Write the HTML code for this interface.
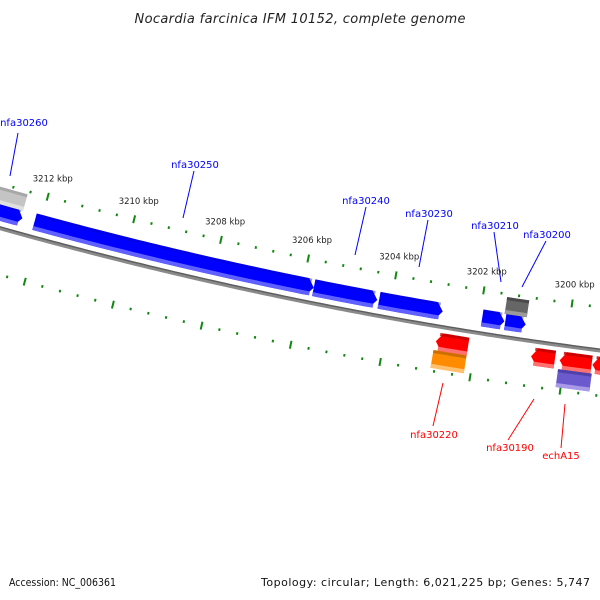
<!DOCTYPE html>
<html><head><meta charset="utf-8"><style>
html,body{margin:0;padding:0;background:#fff;}
svg{display:block;font-family:"DejaVu Sans","Liberation Sans",sans-serif;}
</style></head><body>
<svg id="map" width="600" height="600" viewBox="0 0 600 600">
<text x="300" y="23" text-anchor="middle" font-size="13" font-style="italic" fill="#222" textLength="331">Nocardia farcinica IFM 10152, complete genome</text>
<g id="ticks"></g>
<g id="backbone"></g>
<g id="genes"></g>
<g id="labels"></g>
<text x="9" y="586" font-size="10.5" fill="#111" textLength="107" lengthAdjust="spacingAndGlyphs">Accession: NC_006361</text>
<text x="590" y="586" font-size="11" fill="#111" text-anchor="end" textLength="329">Topology: circular; Length: 6,021,225 bp; Genes: 5,747</text>
</svg>
<script>
// Data (kbp)
const geneNames = ["nfa30260","nfa30250","nfa30240","nfa30230","nfa30210","nfa30200","gray-left","gray-dark","nfa30220","red-b","red-c","red-d","orange","echA15"];
const geneStarts = [3214.46,3212.14,3205.75,3204.27,3201.94,3201.42,3214.5,3201.46,3202.87,3200.74,3200.1,3199.37,3202.89,3200.11];
const geneEnds   = [3212.42,3205.75,3204.31,3202.83,3201.44,3200.96,3212.45,3200.96,3202.15,3200.21,3199.39,3198.7,3202.15,3199.36];
const geneRing   = ["fwd","fwd","fwd","fwd","fwd","fwd","up","up","rev","rev","rev","rev","low","low"];
const geneColor  = ["blue","blue","blue","blue","blue","blue","lgray","dgray","red","red","red","red","orange","purple"];
const geneArrow  = ["right","right","right","right","right","right","none","none","left","left","left","left","none","none"];
const tickMajor = [3214,3212,3210,3208,3206,3204,3202,3200,3198];
const tickLabels = ["3214 kbp","3212 kbp","3210 kbp","3208 kbp","3206 kbp","3204 kbp","3202 kbp","3200 kbp","3198 kbp"];
const labelText = ["nfa30260","nfa30250","nfa30240","nfa30230","nfa30210","nfa30200","nfa30220","nfa30190","echA15"];
const labelColor = ["#0000ff","#0000ff","#0000ff","#0000ff","#0000ff","#0000ff","#ff0000","#ff0000","#ff0000"];
const labelX = [24,195,366,429,495,547,434,510,561];
const labelY = [126,168,204,217,229,238,438,451,459];
const lineX1 = [18,194,366,428,494,546,443,534,565];
const lineY1 = [133,171,207,220,232,241,383,399,404];
const lineX2 = [10,183,355,419,501,522,433,508,561];
const lineY2 = [176,218,255,267,282,287,426,440,448];

const NS="http://www.w3.org/2000/svg";
const cx=1137, cy=-3815, R0=4200;
const a0=105.19*Math.PI/180, k=0.615*Math.PI/180;
function pt(bp,r){const a=a0+(bp-3212)*k;return [cx+r*Math.cos(a),cy+r*Math.sin(a)];}
function mk(tag,attrs,parent){const e=document.createElementNS(NS,tag);for(const n in attrs)e.setAttribute(n,attrs[n]);parent.appendChild(e);return e;}
function arcPts(b1,b2,r){const out=[];const n=Math.max(2,Math.ceil(Math.abs(b2-b1)*8));for(let i=0;i<=n;i++){out.push(pt(b1+(b2-b1)*i/n,r));}return out;}
function arcPath(b1,b2,r){return arcPts(b1,b2,r).map((p,i)=>(i?"L":"M")+p[0].toFixed(2)+" "+p[1].toFixed(2)).join(" ");}

// backbone
const bb=document.getElementById('backbone');
let e=mk('path',{d:arcPath(3216,3196,R0),stroke:'#8a8a8a','stroke-width':4,fill:'none'},bb);


e=mk('path',{d:arcPath(3216,3196,R0-1.3),stroke:'#5e5e5e','stroke-width':1.4,fill:'none'},bb);



// ticks
const tg=document.getElementById('ticks');
const rows=[R0-43,R0+45];
for(const r of rows){
  for(let bp=3198;bp<=3214.01;bp+=0.4){
    const major=tickMajor.some(m=>Math.abs(m-bp)<0.01);
    const L=major?4:1.3;
    const p1=pt(bp,r-L),p2=pt(bp,r+L);
    const t=mk('line',{x1:p1[0],y1:p1[1],x2:p2[0],y2:p2[1],stroke:'#118811','stroke-width':2},tg);
    
    
  }
}
tickMajor.forEach((m,i)=>{
  const p=pt(m,R0-62);
  const t=mk('text',{x:p[0],y:p[1]+3,'text-anchor':'middle','font-size':8.5,fill:'#222'},tg);
  t.textContent=tickLabels[i];
  
  
});

// genes
const ringR={fwd:[R0-24,R0-7],up:[R0-40,R0-23],rev:[R0+6,R0+24],low:[R0+24,R0+42]};
const cols={blue:['#0000ff','#0000c8','#6060ff'],red:['#ff0000','#c00000','#ff7070'],orange:['#ff8c00','#c06800','#ffc070'],purple:['#6a5acd','#4a3aa0','#a89ae8'],dgray:['#666666','#444444','#9a9a9a'],lgray:['#c4c4c4','#a0a0a0','#e0e0e0']};
const gg=document.getElementById('genes');
geneNames.forEach((nm,i)=>{
  const [r1,r2]=ringR[geneRing[i]];
  const hi=Math.max(geneStarts[i],geneEnds[i]), lo=Math.min(geneStarts[i],geneEnds[i]);
  const tip=0.14, rm=(r1+r2)/2;
  let top,bot,pts;
  if(geneArrow[i]==='right'){
    top=arcPts(hi,lo+tip,r1); bot=arcPts(lo+tip,hi,r2);
    pts=[...top,pt(lo,rm),...bot];
  }else if(geneArrow[i]==='left'){
    top=arcPts(hi-tip,lo,r1); bot=arcPts(lo,hi-tip,r2);
    pts=[pt(hi,rm),...top,...bot];
  }else{
    pts=[...arcPts(hi,lo,r1),...arcPts(lo,hi,r2)];
  }
  const g=mk('g',{},gg);
  
  
  const c=cols[geneColor[i]];
  mk('polygon',{points:pts.map(p=>p[0].toFixed(2)+","+p[1].toFixed(2)).join(" "),fill:c[0]},g);
  const loS=geneArrow[i]==='right'?lo+tip*0.5:lo, hiS=geneArrow[i]==='left'?hi-tip*0.5:hi;
  mk('path',{d:arcPath(hiS,loS,r2-2),stroke:c[2],'stroke-width':4,fill:'none'},g);
  mk('path',{d:arcPath(hiS,loS,r1+1.5),stroke:c[1],'stroke-width':3,fill:'none','opacity':geneColor[i]==='blue'?0.4:0.8},g);
});

// labels
const lg=document.getElementById('labels');
labelText.forEach((t,i)=>{
  const l=mk('line',{x1:lineX1[i],y1:lineY1[i],x2:lineX2[i],y2:lineY2[i],stroke:labelColor[i],'stroke-width':1},lg);
  
  
  const tx=mk('text',{x:labelX[i],y:labelY[i],'text-anchor':'middle','font-size':10,fill:labelColor[i]},lg);
  tx.textContent=t;
  
  
});
</script>
</body></html>
